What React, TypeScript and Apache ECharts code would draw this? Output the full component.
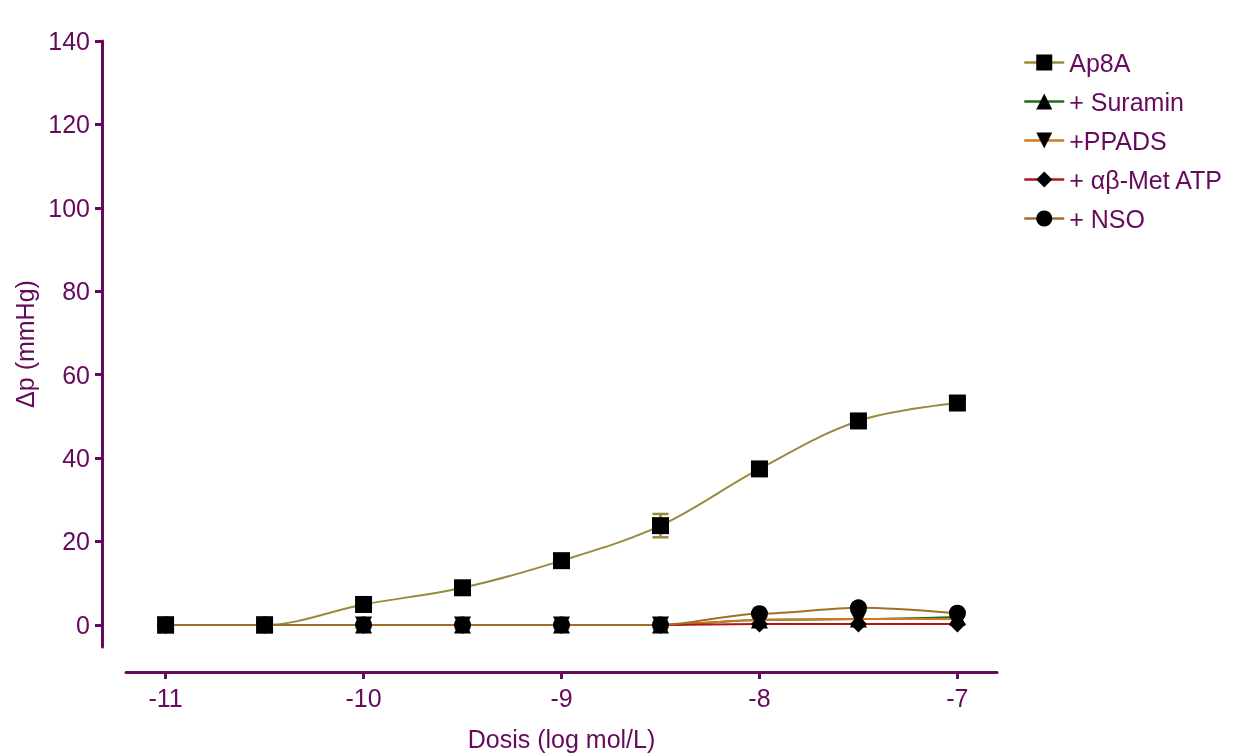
import React, { useEffect, useRef } from "react";
import * as echarts from "echarts";

const doses = [-11, -10.5, -10, -9.5, -9, -8.5, -8, -7.5, -7];
const ap8a = [0, 0, 4.9, 8.9, 15.4, 23.8, 37.4, 48.9, 53.2];
const ap8aErr = [0, 0, 0.8, 0.8, 1.5, 2.8, 1.2, 1.0, 1.0];
const suramin = [0, 0, 0, 0, 0, 0, 1.2, 1.4, 1.9];
const ppads = [0, 0, 0, 0, 0, 0, 1.2, 1.4, 1.4];
const abMet = [0, 0, 0, 0, 0, 0, 0.2, 0.2, 0.2];
const nso = [0, 0, 0, 0, 0, 0, 2.7, 4.1, 2.8];

const xTicks = [-11, -10, -9, -8, -7];
const yTicks = [0, 20, 40, 60, 80, 100, 120, 140];

const seriesNames = ["Ap8A", "+ Suramin", "+PPADS", "+ \u03b1\u03b2-Met ATP", "+ NSO"];

const PURPLE = "#660a5c";
const FONT = "Liberation Sans";

export default function App() {
  const ref = useRef<HTMLDivElement>(null);
  useEffect(() => {
    if (!ref.current) return;
    const chart = echarts.init(ref.current, null, { renderer: "svg" });
    const mk = (name: string, data: number[], color: string, symbol: string, z: number, smooth: number, mono: boolean) => ({
      type: "line",
      name,
      data: doses.map((d, i) => [d, data[i]]),
      symbol,
      symbolSize: 17,
      smooth,
      smoothMonotone: mono ? "x" : undefined,
      clip: false,
      z,
      lineStyle: { color, width: 2 },
      itemStyle: { color: "#000", borderWidth: 0 },
      emphasis: { disabled: true },
    });
    const option: any = {
      animation: false,
      textStyle: { fontFamily: FONT },
      grid: { left: 126, right: 254, top: 41, bottom: 109, containLabel: false },
      legend: {
        data: seriesNames,
        orient: "vertical",
        left: 1018,
        top: 45,
        itemWidth: 40,
        itemHeight: 20,
        itemGap: 14,
        lineStyle: { width: 2.5 },
        textStyle: { color: PURPLE, fontSize: 25, fontFamily: FONT },
        selectedMode: false,
      },
      xAxis: {
        type: "value",
        min: -11.2,
        max: -6.8,
        position: "bottom",
        offset: 25,
        axisLine: { onZero: false, lineStyle: { color: PURPLE, width: 3 } },
        axisTick: { show: true, length: 7, customValues: xTicks, lineStyle: { color: PURPLE, width: 3 } },
        axisLabel: { customValues: xTicks, color: PURPLE, fontSize: 25, margin: 13, formatter: (v: number) => String(v) },
        splitLine: { show: false },
        name: "Dosis (log mol/L)",
        nameLocation: "middle",
        nameGap: 54,
        nameTextStyle: { color: PURPLE, fontSize: 25, fontFamily: FONT },
      },
      yAxis: {
        type: "value",
        min: -5.3,
        max: 140,
        position: "left",
        offset: 24,
        axisLine: { onZero: false, lineStyle: { color: PURPLE, width: 3 } },
        axisTick: { show: true, length: 7, customValues: yTicks, lineStyle: { color: PURPLE, width: 3 } },
        axisLabel: { customValues: yTicks, color: PURPLE, fontSize: 25, margin: 12 },
        splitLine: { show: false },
        name: "\u0394p (mmHg)",
        nameLocation: "middle",
        nameGap: 62,
        nameRotate: 90,
        nameTextStyle: { color: PURPLE, fontSize: 25, fontFamily: FONT },
      },
      series: [
        {
          type: "custom",
          name: "err",
          silent: true,
          z: 1,
          clip: false,
          data: doses.map((d, i) => [d, ap8a[i], ap8aErr[i]]),
          renderItem: (params: any, api: any) => {
            const x = api.value(0);
            const y = api.value(1);
            const e = api.value(2);
            const t = api.coord([x, y + e]);
            const b = api.coord([x, y - e]);
            const st = { stroke: "#9a8a3c", lineWidth: 2.5 };
            return {
              type: "group",
              children: [
                { type: "line", shape: { x1: t[0], y1: t[1], x2: b[0], y2: b[1] }, style: st },
                { type: "line", shape: { x1: t[0] - 8, y1: t[1], x2: t[0] + 8, y2: t[1] }, style: st },
                { type: "line", shape: { x1: b[0] - 8, y1: b[1], x2: b[0] + 8, y2: b[1] }, style: st },
              ],
            };
          },
        },
        mk(seriesNames[0], ap8a, "#9a8a3c", "rect", 2, 0.35, false),
        mk(seriesNames[1], suramin, "#1e6e1e", "triangle", 3, 0.3, true),
        mk(seriesNames[2], ppads, "#d2781e", "path://M0,0 L10,0 L5,10 Z", 4, 0.3, true),
        mk(seriesNames[3], abMet, "#b41414", "diamond", 5, 0.3, true),
        mk(seriesNames[4], nso, "#a0702a", "circle", 6, 0.3, true),
      ],
    };
    chart.setOption(option);
    return () => chart.dispose();
  }, []);
  return <div ref={ref} style={{ position: "fixed", left: 0, top: 0, width: 1251, height: 756 }} />;
}
